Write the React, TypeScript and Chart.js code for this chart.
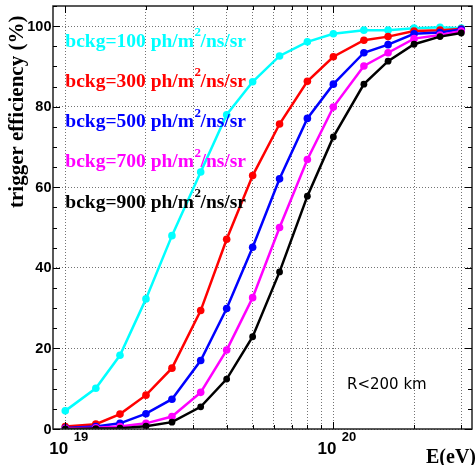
import React, { useEffect, useRef } from "react";
import { Chart, registerables } from "chart.js";
Chart.register(...registerables);

// ---- data ----
const energies = [1e19, 1.3e19, 1.6e19, 2e19, 2.5e19, 3.2e19, 4e19, 5e19, 6.3e19, 8e19, 1e20, 1.3e20, 1.6e20, 2e20, 2.5e20, 3e20];
const eff100 = [4.5, 10.1, 18.3, 32.3, 48.0, 63.8, 78.0, 86.2, 92.6, 96.1, 98.1, 99.0, 99.0, 99.5, 99.7, 99.5];
const eff300 = [0.6, 1.2, 3.7, 8.4, 15.1, 29.4, 47.1, 62.9, 75.7, 86.3, 92.4, 96.5, 97.4, 98.8, 99.0, 99.3];
const eff500 = [0.25, 0.6, 1.4, 3.8, 7.4, 17.0, 29.9, 45.1, 62.1, 77.1, 85.6, 93.4, 95.4, 98.1, 98.4, 99.2];
const eff700 = [0.1, 0.3, 0.6, 1.4, 3.1, 9.1, 19.6, 32.6, 50.0, 66.9, 79.9, 90.1, 93.4, 96.9, 97.8, 98.8];
const eff900 = [0.0, 0.1, 0.2, 0.7, 1.7, 5.5, 12.4, 22.9, 39.0, 57.8, 72.5, 85.6, 91.3, 95.5, 97.4, 98.3];
const bckgValues = ["100", "300", "500", "700", "900"];
const seriesColors = ["#00ffff", "#ff0000", "#0000ff", "#ff00ff", "#000000"];
const yTickValues = [0, 20, 40, 60, 80, 100];
const xDecadeExponents = [19, 20];
const xGridValues = [1e19, 2e19, 3e19, 4e19, 5e19, 6e19, 7e19, 8e19, 9e19, 1e20, 2e20, 3e20];
const yTitle = "trigger efficiency (%)";
const xTitle = "E(eV)";
const noteText = "R<200 km";

const SERIF = '"Liberation Serif", "Times New Roman", serif';
const SANS = '"Liberation Sans", Arial, sans-serif';

const overlayPlugin = {
  id: "overlay",
  afterDraw(chart: any) {
    const ctx = chart.ctx as CanvasRenderingContext2D;
    const { left, right, top, bottom } = chart.chartArea;
    const xs = chart.scales.x;
    const ys = chart.scales.y;
    ctx.save();
    // frame
    ctx.strokeStyle = "#222";
    ctx.lineWidth = 1.5;
    ctx.setLineDash([]);
    ctx.strokeRect(left, top, right - left, bottom - top);
    // y ticks (inward, both sides)
    ctx.lineWidth = 1;
    ctx.strokeStyle = "#000";
    for (let v = 0; v <= 105; v += 5) {
      const py = Math.round(ys.getPixelForValue(v)) + 0.5;
      const len = v % 20 === 0 ? 7 : 4;
      ctx.beginPath();
      ctx.moveTo(left, py);
      ctx.lineTo(left + len, py);
      ctx.moveTo(right, py);
      ctx.lineTo(right - len, py);
      ctx.stroke();
    }
    // x ticks
    for (const v of xGridValues) {
      const px = Math.round(xs.getPixelForValue(v)) + 0.5;
      const major = xDecadeExponents.some((e) => Math.abs(v - Math.pow(10, e)) < 1e10);
      const len = major ? 7 : 4;
      ctx.beginPath();
      ctx.moveTo(px, bottom);
      ctx.lineTo(px, bottom - len);
      ctx.moveTo(px, top);
      ctx.lineTo(px, top + len);
      ctx.stroke();
    }
    // y tick labels
    ctx.fillStyle = "#000";
    ctx.font = `bold 14.5px ${SANS}`;
    ctx.textAlign = "right";
    ctx.textBaseline = "middle";
    for (const v of yTickValues) {
      ctx.fillText(String(v), left - 1.5, ys.getPixelForValue(v) + 0.5);
    }
    // x tick labels 10^n
    ctx.textBaseline = "alphabetic";
    for (const e of xDecadeExponents) {
      const px = xs.getPixelForValue(Math.pow(10, e));
      ctx.font = `bold 17px ${SANS}`;
      ctx.textAlign = "right";
      ctx.fillText("10", px + 3, bottom + 25);
      ctx.font = `bold 13px ${SANS}`;
      ctx.textAlign = "left";
      ctx.fillText(String(e), px + 8.5, bottom + 12);
    }
    // x title
    ctx.font = `bold 20px ${SERIF}`;
    ctx.textAlign = "right";
    ctx.fillText(xTitle, 476, 463);
    // y title
    ctx.save();
    ctx.translate(23, 208);
    ctx.rotate(-Math.PI / 2);
    ctx.font = `bold 21px ${SERIF}`;
    ctx.textAlign = "left";
    ctx.fillText(yTitle, 0, 0);
    ctx.restore();
    // legend texts
    bckgValues.forEach((b, i) => {
      const baseY = 46.7 + i * 40.25;
      let x = 65.3;
      ctx.fillStyle = seriesColors[i];
      ctx.textAlign = "left";
      ctx.font = `bold 19.5px ${SERIF}`;
      const t1 = `bckg=${b} ph/m`;
      ctx.fillText(t1, x, baseY);
      x += ctx.measureText(t1).width;
      ctx.font = `bold 13px ${SERIF}`;
      ctx.fillText("2", x + 0.5, baseY - 10.5);
      x += ctx.measureText("2").width;
      ctx.font = `bold 19.5px ${SERIF}`;
      ctx.fillText("/ns/sr", x, baseY);
    });
    // note
    ctx.fillStyle = "#000";
    ctx.font = `15px "DejaVu Sans", sans-serif`;
    ctx.textAlign = "left";
    ctx.fillText(noteText, 347, 389);
    ctx.restore();
  },
};

export default function App() {
  const ref = useRef<HTMLCanvasElement | null>(null);
  useEffect(() => {
    document.body.style.margin = "0";
    const canvas = ref.current!;
    const series = [eff100, eff300, eff500, eff700, eff900];
    const chart = new Chart(canvas, {
      type: "line",
      data: {
        datasets: series.map((vals, i) => ({
          label: `bckg=${bckgValues[i]}`,
          data: energies.map((e, j) => ({ x: e, y: vals[j] })),
          borderColor: seriesColors[i],
          backgroundColor: seriesColors[i],
          borderWidth: 2.5,
          pointRadius: i === 4 ? 3.4 : 3.8,
          pointBorderWidth: 0,
          pointBackgroundColor: seriesColors[i],
          tension: 0,
          fill: false,
          order: 5 - i,
        })),
      },
      options: {
        animation: false,
        responsive: false,
        maintainAspectRatio: false,
        layout: { padding: { left: 53, top: 6, right: 0, bottom: 36 } },
        plugins: { legend: { display: false }, tooltip: { enabled: false } },
        scales: {
          x: {
            type: "logarithmic",
            min: 9.0e18,
            max: 3.29e20,
            afterBuildTicks: (s: any) => {
              s.ticks = xGridValues.map((v) => ({ value: v }));
            },
            afterFit: (s: any) => {
              s.height = 0;
            },
            ticks: { display: false },
            grid: { color: "rgba(0,0,0,0.55)", lineWidth: 1, drawTicks: false },
            border: { display: false, dash: [1, 2] },
          },
          y: {
            type: "linear",
            min: 0,
            max: 105,
            afterBuildTicks: (s: any) => {
              s.ticks = yTickValues.map((v) => ({ value: v }));
            },
            afterFit: (s: any) => {
              s.width = 0;
            },
            ticks: { display: false },
            grid: { color: "rgba(0,0,0,0.55)", lineWidth: 1, drawTicks: false },
            border: { display: false, dash: [1, 2] },
          },
        },
      },
      plugins: [overlayPlugin],
    } as any);
    return () => chart.destroy();
  }, []);
  return (
    <div style={{ width: 476, height: 465, background: "#fff" }}>
      <canvas ref={ref} width={476} height={465} style={{ display: "block" }} />
    </div>
  );
}
